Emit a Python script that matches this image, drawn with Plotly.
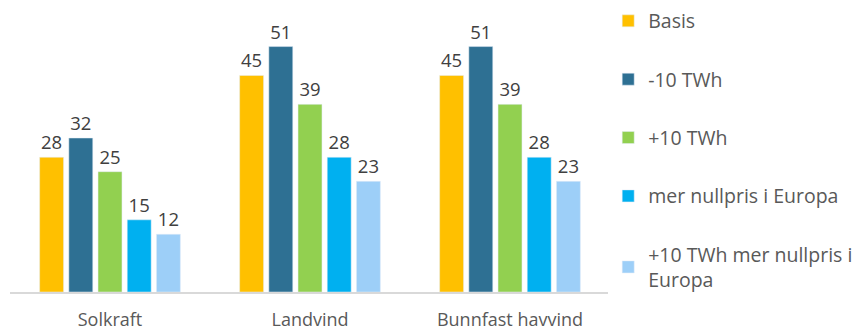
import plotly.graph_objects as go

categories = ["Solkraft", "Landvind", "Bunnfast havvind"]
series_names = ["Basis", "-10 TWh", "+10 TWh", "mer nullpris i Europa", "+10 TWh mer nullpris i<br>Europa"]
basis = [28, 45, 45]
minus10 = [32, 51, 51]
plus10 = [25, 39, 39]
nullpris = [15, 28, 28]
plus10_nullpris = [12, 23, 23]
colors = ["#FFC000", "#2E7093", "#92D050", "#00B0F0", "#9DCFF8"]

values = [basis, minus10, plus10, nullpris, plus10_nullpris]

fig = go.Figure()
for i, (name, vals, col) in enumerate(zip(series_names, values, colors)):
    fig.add_trace(go.Bar(
        x=categories, y=vals, name=name, marker_color=col,
        text=vals, textposition="outside", cliponaxis=False,
        textfont=dict(size=18.5, color="#404040"),
        legendgroup=f"g{i}",
    ))

fig.update_layout(
    width=854, height=332,
    margin=dict(l=10, r=244, t=10, b=40, autoexpand=False),
    plot_bgcolor="white", paper_bgcolor="white",
    barmode="group", bargap=0.27, bargroupgap=0.18,
    font=dict(family="Open Sans", size=18, color="#595959"),
    showlegend=True,
    legend=dict(x=0.997, xanchor="left", yref="container", y=0.995, yanchor="top",
                traceorder="grouped", tracegroupgap=30, maxheight=1.0,
                font=dict(size=19.5, color="#595959")),
    xaxis=dict(showline=True, linecolor="#D9D9D9", linewidth=2,
               tickfont=dict(size=18, color="#595959"), ticks="",
               ticklabelstandoff=10),
    yaxis=dict(visible=False, range=[0, 58.6]),
)
fig.write_html("out.html", config={"displayModeBar": False},
               post_script="document.body.style.margin='0';")
